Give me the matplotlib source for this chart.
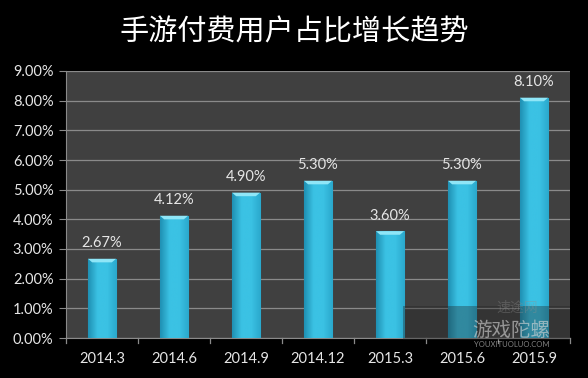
import matplotlib
matplotlib.use("Agg")
import matplotlib.pyplot as plt
import numpy as np
from matplotlib.colors import LinearSegmentedColormap
from matplotlib.patches import Rectangle

plt.rcParams['font.family'] = ['Lato', 'Noto Sans CJK SC', 'DejaVu Sans']

categories = ["2014.3", "2014.6", "2014.9", "2014.12", "2015.3", "2015.6", "2015.9"]
values = [2.67, 4.12, 4.90, 5.30, 3.60, 5.30, 8.10]
labels = ["2.67%", "4.12%", "4.90%", "5.30%", "3.60%", "5.30%", "8.10%"]
yticks = [0, 1, 2, 3, 4, 5, 6, 7, 8, 9]
title = "手游付费用户占比增长趋势"

fig = plt.figure(figsize=(5.88, 3.78), dpi=100, facecolor="black")
ax = fig.add_axes([66/588, 40/378, 504/588, 267/378])
ax.set_facecolor("#404040")

x = np.arange(len(categories))
bars = ax.bar(x, values, width=0.39, color="#33b6da", edgecolor="#1d87a6", linewidth=0.8, zorder=3)

cmap = LinearSegmentedColormap.from_list("g", ["#1f90b3", "#3bc2e4", "#3bc2e4", "#2aa8cc"])
grad = np.linspace(0, 1, 64).reshape(1, -1)
for b in bars:
    x0, y0, w, h = b.get_x(), b.get_y(), b.get_width(), b.get_height()
    im = ax.imshow(grad, extent=[x0, x0 + w, y0, y0 + h], aspect="auto", cmap=cmap,
                   zorder=3.5, interpolation="bicubic")
    im.set_clip_path(b)
    ax.fill([x0, x0 + w, x0 + w * 0.85, x0 + w * 0.15],
            [h, h, h - 0.12, h - 0.12], color="#8fe6f7", zorder=4, lw=0)

for xi, v, lab in zip(x, values, labels):
    ax.text(xi, v + 0.28, lab, ha="center", va="bottom", color="#e6e6e6", fontsize=10.5, zorder=5)

ax.set_ylim(0, 9)
ax.set_xlim(-0.5, len(categories) - 0.5)
ax.set_yticks(yticks)
ax.set_yticklabels([f"{t:.2f}%" for t in yticks])
ax.set_xticks(x)
ax.set_xticklabels(categories)
ax.yaxis.grid(True, color="#8a8a8a", linewidth=0.9, zorder=1)
ax.set_axisbelow(True)

ax.tick_params(axis="y", colors="#8a8a8a", labelcolor="#e6e6e6", labelsize=10.5, length=5, pad=4)
ax.tick_params(axis="x", length=0, labelcolor="#e6e6e6", labelsize=10.5, pad=10)
for xb in np.arange(-0.5, len(categories), 1.0):
    ax.plot([xb, xb], [0, -0.18], color="#8a8a8a", lw=0.9, clip_on=False, zorder=2)

for s in ["top", "right"]:
    ax.spines[s].set_visible(False)
ax.spines["left"].set_color("#8a8a8a")
ax.spines["bottom"].set_color("#8a8a8a")

fig.text(0.5, 0.913, title, ha="center", va="center", color="white", fontsize=21,
         family=["Noto Sans CJK SC", "DejaVu Sans"])

# watermark
fig.add_artist(Rectangle((403/588, 38/378), 167/588, 34/378, transform=fig.transFigure,
                         facecolor="#202020", alpha=0.35, lw=0, zorder=9))
fig.text(0.87, 0.127, "游戏陀螺", ha="center", va="center", color="#d8d8d8", alpha=0.6,
         fontsize=14, family=["Noto Sans CJK SC", "DejaVu Sans"], zorder=10)
fig.text(0.87, 0.088, "YOUXITUOLUO.COM", ha="center", va="center", color="#d8d8d8", alpha=0.6,
         fontsize=5.5, zorder=10)
fig.text(0.879, 0.185, "速途网", ha="center", va="center", color="#909090", alpha=0.35,
         fontsize=10, style="italic", family=["Noto Sans CJK SC", "DejaVu Sans"], zorder=10)

fig.savefig("out.png", dpi=100, facecolor="black")
